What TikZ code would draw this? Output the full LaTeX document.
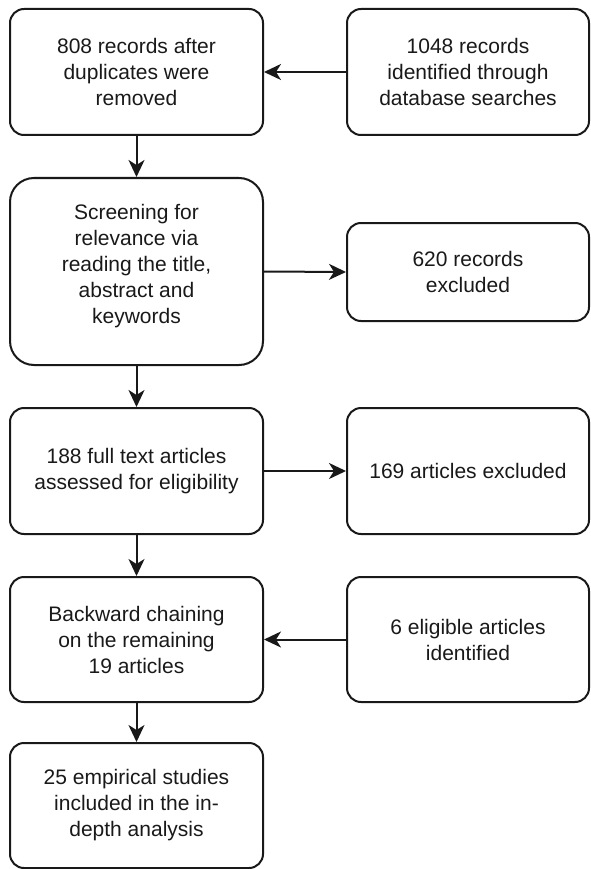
\documentclass[tikz,border=0pt]{standalone}
\usepackage{fontspec}
\setmainfont{Liberation Sans}
\usetikzlibrary{arrows.meta}

\begin{document}
\begin{tikzpicture}[x=1pt,y=-1pt,
  box/.style={draw=black!90,line width=2pt,rounded corners=14pt,align=center,
    font=\fontsize{21}{26}\selectfont,text=black!90,inner sep=0pt},
  wide/.style={minimum width=253pt},
  side/.style={minimum width=242pt},
  flow/.style={draw=black!90,line width=2pt,-{Stealth[length=17pt,width=16pt,inset=5pt]}}]
\useasboundingbox (0,0) rectangle (590,869);

% Left column
\node[box,wide,minimum height=126pt] (dedup) at (136.5,72) {808 records after\\duplicates were\\removed};
\node[box,wide,minimum height=187pt,rounded corners=24pt,text depth=16pt] (screen) at (136.5,271.5) {Screening for\\relevance via\\reading the title,\\abstract and\\keywords};
\node[box,wide,minimum height=126pt] (fulltext) at (136.5,471) {188 full text articles\\assessed for eligibility};
\node[box,wide,minimum height=125pt] (chain) at (136.5,639.5) {Backward chaining\\on the remaining\\19 articles};
\node[box,wide,minimum height=125pt] (final) at (136.5,805.5) {25 empirical studies\\included in the in-\\depth analysis};

% Right column
\node[box,side,minimum height=126pt] (ident) at (468,72) {1048 records\\identified through\\database searches};
\node[box,side,minimum height=98pt] (excl) at (468,272) {620 records\\excluded};
\node[box,side,minimum height=126pt] (artexcl) at (468,471) {169 articles excluded};
\node[box,side,minimum height=125pt] (eligible) at (468,639.5) {6 eligible articles\\identified};

% Arrows
\draw[flow] (dedup) -- (screen);
\draw[flow] (screen) -- (fulltext);
\draw[flow] (fulltext) -- (chain);
\draw[flow] (chain) -- (final);
\draw[flow] (ident.west) -- (dedup.east);
\draw[flow] (screen.east) -- (excl.west);
\draw[flow] (fulltext.east) -- (artexcl.west);
\draw[flow] (eligible.west) -- (chain.east);
\end{tikzpicture}
\end{document}
